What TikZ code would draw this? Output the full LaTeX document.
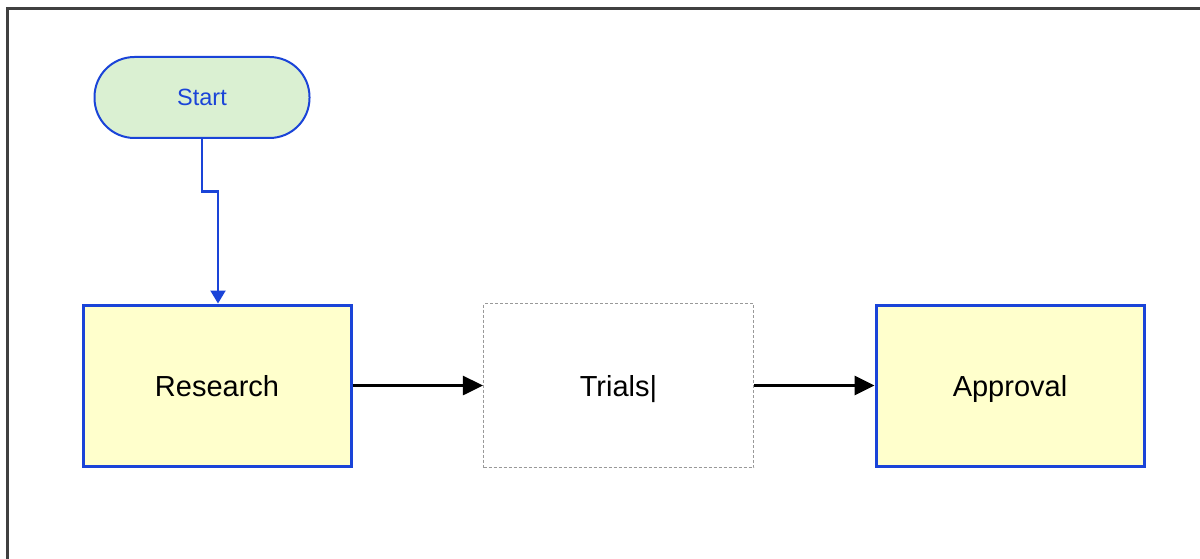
\documentclass[tikz,border=0pt]{standalone}
\usepackage{fontspec}
\setmainfont{Liberation Sans}
\usetikzlibrary{arrows.meta}
\definecolor{bord}{HTML}{1A44D8}
\definecolor{yel}{HTML}{FFFFCC}
\definecolor{grn}{HTML}{DAF0D2}
\definecolor{frm}{HTML}{404040}
\tikzset{
  procbox/.style={draw=bord, line width=3pt, fill=yel, minimum width=268pt, minimum height=161pt, inner sep=0pt, text depth=0pt, font=\fontsize{29}{34}\selectfont},
  startbox/.style={draw=bord, line width=2pt, fill=grn, rounded corners=40pt, minimum width=215pt, minimum height=81pt, inner sep=0pt, text depth=0pt, text=bord, font=\fontsize{23.5}{28}\selectfont},
  emptybox/.style={draw=black!40, line width=1.2pt, dash pattern=on 3pt off 2pt, minimum width=270pt, minimum height=164pt, inner sep=0pt, text depth=0pt, font=\fontsize{29}{34}\selectfont},
  bluearrow/.style={draw=bord, line width=2.2pt, -{Triangle[length=13pt,width=15pt]}},
  blackarrow/.style={draw=black, line width=3pt, -{Triangle[length=20pt,width=19pt]}}
}
\begin{document}
\begin{tikzpicture}[x=1pt,y=-1pt]
\useasboundingbox (0,0) rectangle (1200,559);
\fill[white] (0,0) rectangle (1200,559);
\draw[frm, line width=2.5pt] (7.5,580) -- (7.5,8.5) -- (1210,8.5);
\node[startbox] (start) at (202,97.5) {Start};
\node[procbox] (research) at (217,385.5) {Research};
\node[emptybox] (trials) at (618.5,385.5) {Trials|};
\node[procbox] (approval) at (1010,385.5) {Approval};
\coordinate (bend) at (202,191.5);
\draw[bluearrow] (start.south) -- (bend) -| ([xshift=1pt]research.north);
\draw[blackarrow] (research.east) -- (trials.west);
\draw[blackarrow] (trials.east) -- (approval.west);
\end{tikzpicture}
\end{document}
